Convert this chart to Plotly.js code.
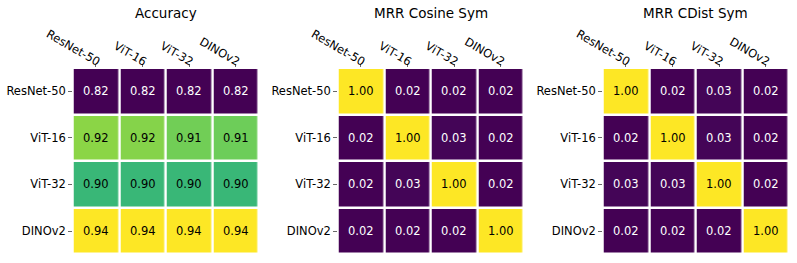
<!DOCTYPE html>
<html>
<head>
<meta charset="utf-8">
<script src="https://cdn.plot.ly/plotly-3.0.1.min.js"></script>
<style>
html,body{margin:0;padding:0;background:#fff;}
#chart{width:797px;height:263px;}
</style>
</head>
<body>
<div id="chart"></div>
<script>
const models = ["ResNet-50", "ViT-16", "ViT-32", "DINOv2"];
const titles = ["Accuracy", "MRR Cosine Sym", "MRR CDist Sym"];

const accuracy = [
  [0.820, 0.820, 0.820, 0.820],
  [0.919, 0.918, 0.914, 0.913],
  [0.900, 0.900, 0.900, 0.900],
  [0.940, 0.940, 0.940, 0.940]
];
const mrrCosine = [
  [1.00, 0.02, 0.02, 0.02],
  [0.02, 1.00, 0.03, 0.02],
  [0.02, 0.03, 1.00, 0.02],
  [0.02, 0.02, 0.02, 1.00]
];
const mrrCdist = [
  [1.00, 0.02, 0.03, 0.02],
  [0.02, 1.00, 0.03, 0.02],
  [0.03, 0.03, 1.00, 0.02],
  [0.02, 0.02, 0.02, 1.00]
];

const viridis = [
  [0.0, "#440154"], [0.1, "#482475"], [0.2, "#414487"], [0.3, "#355f8d"],
  [0.4, "#2a788e"], [0.5, "#21918c"], [0.6, "#22a884"], [0.7, "#44bf70"],
  [0.8, "#7ad151"], [0.9, "#bddf26"], [1.0, "#fde725"]
];

const W = 797, H = 263;
const panelLeft = [72.7, 337.7, 602.7];
const panelSize = 186.3;
const topPx = 68, botPx = 254.3;

const matrices = [accuracy, mrrCosine, mrrCdist];
const data = [];
const annotations = [];
const layout = {
  width: W, height: H,
  margin: {l: 0, r: 0, t: 0, b: 0},
  paper_bgcolor: "#fff", plot_bgcolor: "#fff",
  font: {family: "DejaVu Sans", size: 11, color: "#000"},
  showlegend: false
};

matrices.forEach((m, i) => {
  const xa = i === 0 ? "x" : "x" + (i + 1);
  const ya = i === 0 ? "y" : "y" + (i + 1);
  const flat = m.flat();
  const zmin = Math.min(...flat), zmax = Math.max(...flat);
  data.push({
    type: "heatmap",
    x: models, y: models, z: m,
    xaxis: xa, yaxis: ya,
    colorscale: viridis, zmin: zmin, zmax: zmax,
    showscale: false, xgap: 2.5, ygap: 2.5,
    hoverinfo: "skip"
  });
  m.forEach((row, r) => {
    row.forEach((v, c) => {
      const t = (v - zmin) / (zmax - zmin);
      annotations.push({
        xref: xa, yref: ya, x: models[c], y: models[r],
        text: v.toFixed(2), showarrow: false,
        font: {family: "DejaVu Sans", size: 11.5, color: t > 0.55 ? "#000" : "#fff"}
      });
    });
  });
  const l = panelLeft[i];
  const axX = i === 0 ? "xaxis" : "xaxis" + (i + 1);
  const axY = i === 0 ? "yaxis" : "yaxis" + (i + 1);
  layout[axX] = {
    domain: [l / W, (l + panelSize) / W],
    anchor: ya, side: "top", type: "category",
    tickangle: 30, ticks: "outside", ticklen: 3.5, tickwidth: 0.8, tickcolor: "#444",
    ticklabelshift: 4, ticklabelstandoff: -8,
    showgrid: false, zeroline: false, showline: false,
    tickfont: {family: "DejaVu Sans", size: 11.5, color: "#000"},
    fixedrange: true
  };
  layout[axY] = {
    domain: [1 - botPx / H, 1 - topPx / H],
    anchor: xa, type: "category", autorange: "reversed",
    ticks: "outside", ticklen: 3.5, tickwidth: 0.8, tickcolor: "#444",
    showgrid: false, zeroline: false, showline: false,
    tickfont: {family: "DejaVu Sans", size: 11.5, color: "#000"},
    fixedrange: true
  };
  annotations.push({
    xref: "paper", yref: "paper",
    x: (l + panelSize / 2) / W, y: 1 - 12.5 / H,
    xanchor: "center", yanchor: "middle",
    text: titles[i], showarrow: false,
    font: {family: "DejaVu Sans", size: 13.5, color: "#000"}
  });
});
layout.annotations = annotations;

Plotly.newPlot("chart", data, layout, {displayModeBar: false, staticPlot: true});
</script>
</body>
</html>
